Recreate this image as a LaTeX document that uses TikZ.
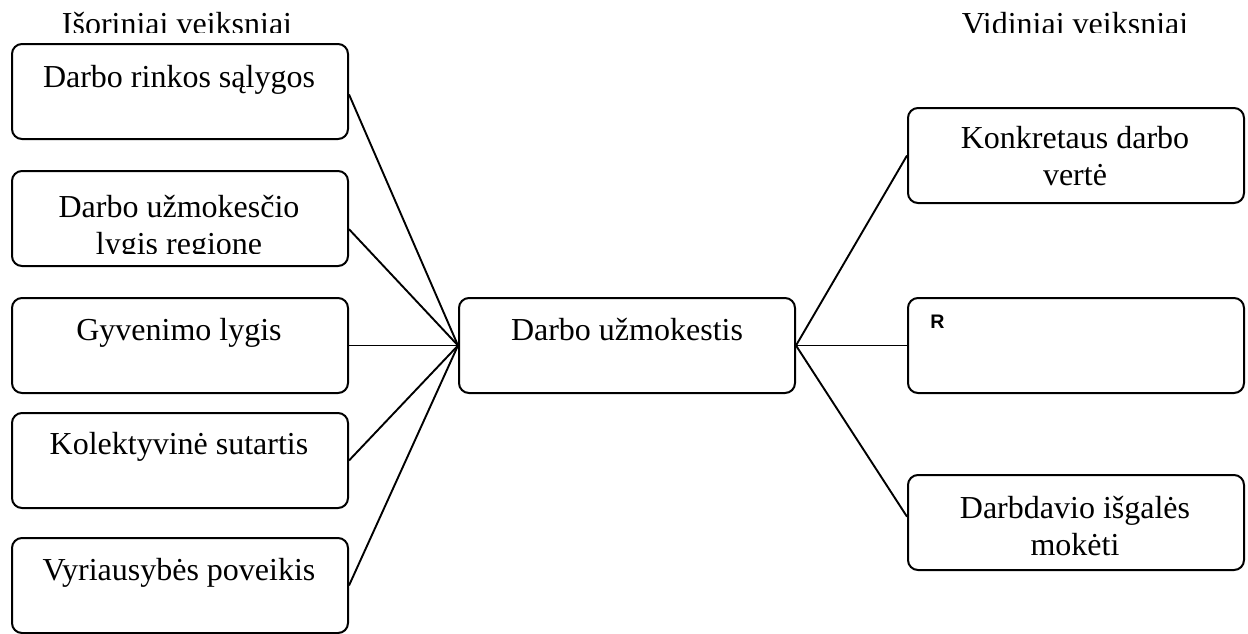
\documentclass[tikz,border=0pt]{standalone}
\usepackage{fontspec}
\setmainfont{Liberation Serif}
\newfontfamily\arialfont{Liberation Sans}
\usetikzlibrary{calc}
\tikzset{
  boxshape/.style={draw, line width=1pt, rounded corners=5pt, minimum width=168pt, minimum height=47.5pt, anchor=north west, inner sep=0pt},
  lbl/.style={font=\fontsize{16}{18.5}\selectfont, anchor=base, inner sep=0pt},
  conn/.style={line width=0.95pt},
}
\begin{document}
\begin{tikzpicture}[x=0.5pt, y=-0.5pt]
\useasboundingbox (0,0) rectangle (1248,633);
% titles (clipped at the bottom as in the reference)
\begin{scope}
  \clip (0,0) rectangle (1248,32);
  \node[lbl] (t1) at (177,34) {Išoriniai veiksniai};
  \node[lbl] (t2) at (1075,34) {Vidiniai veiksniai};
\end{scope}
% left column
\node[boxshape] (L1) at (11,43) {};
\node[boxshape] (L2) at (11,170) {};
\node[boxshape] (L3) at (11,297) {};
\node[boxshape] (L4) at (11,412) {};
\node[boxshape] (L5) at (11,537) {};
% centre
\node[boxshape] (C) at (458,297) {};
% right column
\node[boxshape] (R1) at (907,107) {};
\node[boxshape] (R2) at (907,297) {};
\node[boxshape] (R3) at (907,474) {};
% labels
\node[lbl] (l1) at (179,87) {Darbo rinkos sąlygos};
\begin{scope}
  \clip (11,170) rectangle (347,253);
  \node[lbl] (l2a) at (179,217) {Darbo užmokesčio};
  \node[lbl] (l2b) at (179,254) {lygis regione};
\end{scope}
\node[lbl] (l3) at (179,340) {Gyvenimo lygis};
\node[lbl] (l4) at (179,454) {Kolektyvinė sutartis};
\node[lbl] (l5) at (179,580) {Vyriausybės poveikis};
\node[lbl] (lc) at (627,340) {Darbo užmokestis};
\node[lbl] (r1a) at (1075,148) {Konkretaus darbo};
\node[lbl] (r1b) at (1075,185) {vertė};
\node[font=\arialfont\bfseries\fontsize{9.8}{11}\selectfont, anchor=base west, inner sep=0pt] (r2) at (930,328) {R};
\node[lbl] (r3a) at (1075,518) {Darbdavio išgalės};
\node[lbl] (r3b) at (1075,555) {mokėti};
% connectors
\draw[conn] ($(L1.north east)!0.53!(L1.south east)$) -- (C.west);
\draw[conn] ($(L2.north east)!0.61!(L2.south east)$) -- (C.west);
\draw[conn] (L3.east) -- (C.west);
\draw[conn] (L4.east) -- (C.west);
\draw[conn] (L5.east) -- (C.west);
\draw[conn] (C.east) -- (R1.west);
\draw[conn] (C.east) -- (R2.west);
\draw[conn] (C.east) -- ($(R3.north west)!0.44!(R3.south west)$);
\end{tikzpicture}
\end{document}
